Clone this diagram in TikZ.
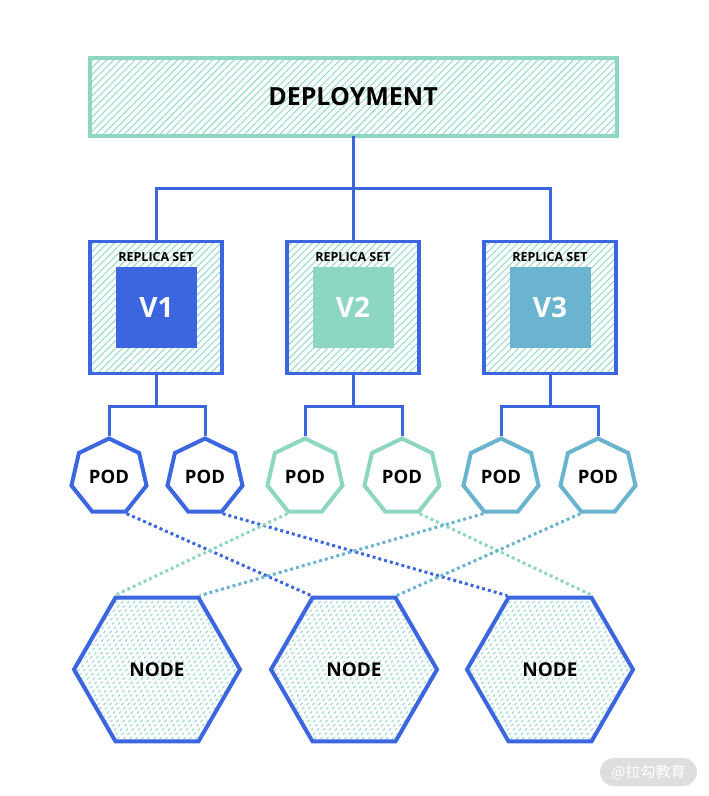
\documentclass[tikz,border=0pt]{standalone}
\usepackage{fontspec}
\setmainfont{Open Sans}
\newfontfamily\cjkfont{Noto Sans CJK SC}
\usetikzlibrary{shapes.geometric,patterns.meta}
\definecolor{kblue}{RGB}{59,102,224}
\definecolor{kteal}{RGB}{141,214,194}
\definecolor{ksky}{RGB}{106,180,208}
\definecolor{kmark}{RGB}{222,222,222}

\begin{document}
\begin{tikzpicture}[x=1pt,y=-1pt,
    link/.style ={kblue, line width=3pt},
    wire/.style ={#1, line width=3pt, dash pattern=on 3pt off 3pt},
    hatched/.style ={pattern={Lines[angle=45,distance=5pt,line width=0.9pt]}, pattern color=kteal},
    deploy/.style ={rectangle, draw=kteal, line width=4pt, hatched, minimum width=527pt, minimum height=78pt, font=\fontsize{25}{28}\selectfont\bfseries},
    replica/.style ={rectangle, draw=kblue, line width=3.5pt, hatched, minimum size=132pt},
    version/.style ={rectangle, fill=#1, minimum size=81pt, text=white, font=\fontsize{28}{30}\selectfont\bfseries},
    pod/.style ={regular polygon, regular polygon sides=7, draw=#1, fill=white, line width=4pt, inner sep=0pt, minimum size=77pt, font=\fontsize{18.5}{20}\selectfont\bfseries},
    host/.style ={regular polygon, regular polygon sides=6, draw=kblue, line width=4pt, inner sep=0pt, minimum size=166pt, font=\fontsize{19}{20}\selectfont\bfseries,
      path picture={\foreach \k in {-180,-174,...,180} \draw[kteal, line width=0.9pt, dash pattern=on 3pt off 3pt] ([xshift=\k pt]path picture bounding box.center) ++(-95pt,-95pt) -- ++(190pt,190pt);}},
    wmark/.style ={rectangle, rounded corners=14pt, fill=kmark, text=white, minimum width=97pt, minimum height=28pt, font=\cjkfont\fontsize{15}{16}\selectfont}]
   \useasboundingbox (0,0) rectangle (709,796);

   \node[deploy] (dep) at (353,96.5) {DEPLOYMENT};

   \node[replica] (rs1) at (156,307.5) {};
   \node[replica] (rs2) at (353,307.5) {};
   \node[replica] (rs3) at (550,307.5) {};
   \node[version=kblue] (v1) at (156.5,307.5) {V1};
   \node[version=kteal] (v2) at (353,307.5) {V2};
   \node[version=ksky] (v3) at (550,307.5) {V3};
   \node[font=\fontsize{12.5}{13}\selectfont\bfseries] (l1) at (156,257) {REPLICA SET};
   \node[font=\fontsize{12.5}{13}\selectfont\bfseries] (l2) at (353,257) {REPLICA SET};
   \node[font=\fontsize{12.5}{13}\selectfont\bfseries] (l3) at (550,257) {REPLICA SET};

   \coordinate (b0) at (353,188);
   \draw[link] (dep.south) -- (rs2.north);
   \draw[link] (rs1.north) |- (b0) -| (rs3.north);

   \node[pod=kblue] (p1) at (109,477) {POD};
   \node[pod=kblue] (p2) at (205,477) {POD};
   \node[pod=kteal] (p3) at (305,477) {POD};
   \node[pod=kteal] (p4) at (402,477) {POD};
   \node[pod=ksky] (p5) at (501,477) {POD};
   \node[pod=ksky] (p6) at (598,477) {POD};

   \coordinate (b1) at (156,406);
   \coordinate (b2) at (353,406);
   \coordinate (b3) at (550,406);
   \draw[link] (rs1.south) -- (b1);
   \draw[link] (rs2.south) -- (b2);
   \draw[link] (rs3.south) -- (b3);
   \draw[link] (p1.north) |- (b1) -| (p2.north);
   \draw[link] (p3.north) |- (b2) -| (p4.north);
   \draw[link] (p5.north) |- (b3) -| (p6.north);

   \node[host] (n1) at (157,669.5) {NODE};
   \node[host] (n2) at (354,669.5) {NODE};
   \node[host] (n3) at (550,669.5) {NODE};

   \draw[wire=kblue] (p1.corner 5) -- (n2.corner 2);
   \draw[wire=kblue] (p2.corner 5) -- (n3.corner 2);
   \draw[wire=kteal] (p3.corner 4) -- (n1.corner 2);
   \draw[wire=kteal] (p4.corner 5) -- (n3.corner 1);
   \draw[wire=ksky] (p5.corner 4) -- (n1.corner 1);
   \draw[wire=ksky] (p6.corner 4) -- (n2.corner 1);

   \node[wmark] (wm) at (648.5,772) {@拉勾教育};
 \end{tikzpicture}
\end{document}
